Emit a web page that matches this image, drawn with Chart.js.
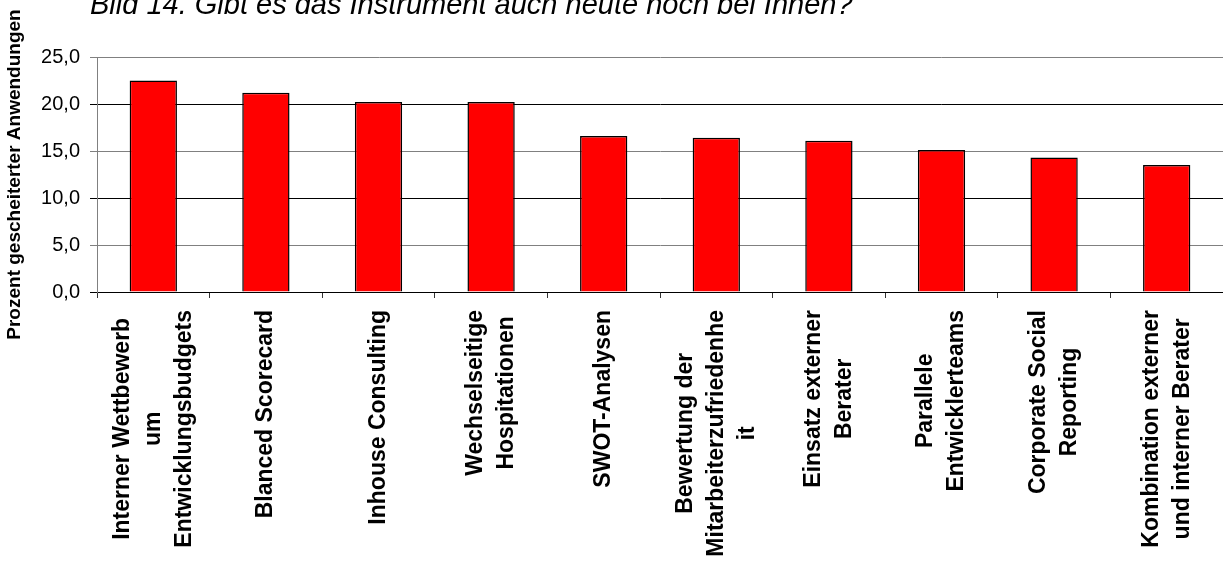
<!DOCTYPE html>
<html>
<head>
<meta charset="utf-8">
<script src="https://cdn.jsdelivr.net/npm/chart.js@4.4.1/dist/chart.umd.min.js"></script>
<style>
  html, body { margin: 0; padding: 0; background: #ffffff; }
  #wrap { width: 1223px; height: 564px; position: relative; }
</style>
</head>
<body>
<div id="wrap"><canvas id="c" width="1223" height="564"></canvas></div>
<script>
const chartTitle = 'Bild 14. Gibt es das Instrument auch heute noch bei Ihnen?';
const yAxisTitle = 'Prozent gescheiterter Anwendungen';
const categories = [
  ['Interner Wettbewerb', 'um', 'Entwicklungsbudgets'],
  ['Blanced Scorecard'],
  ['Inhouse Consulting'],
  ['Wechselseitige', 'Hospitationen'],
  ['SWOT-Analysen'],
  ['Bewertung der', 'Mitarbeiterzufriedenhe', 'it'],
  ['Einsatz externer', 'Berater'],
  ['Parallele', 'Entwicklerteams'],
  ['Corporate Social', 'Reporting'],
  ['Kombination externer', 'und interner Berater']
];
const values = [22.5, 21.2, 20.2, 20.2, 16.6, 16.4, 16.1, 15.1, 14.3, 13.5];
const yMin = 0;
const yMax = 25;
const yStep = 5;

const FONT = '"Liberation Sans", Arial, Helvetica, sans-serif';

const decorPlugin = {
  id: 'decor',
  afterDraw(chart) {
    const ctx = chart.ctx;
    const xs = chart.scales.x;
    // main title
    ctx.save();
    ctx.fillStyle = '#000';
    ctx.font = 'italic 29px ' + FONT;
    ctx.textAlign = 'left';
    ctx.textBaseline = 'alphabetic';
    ctx.fillText(chartTitle, 90, 14);
    ctx.restore();
    // category labels (rotated, lines centred on each other)
    ctx.save();
    ctx.fillStyle = '#000';
    ctx.font = 'bold 23px ' + FONT;
    ctx.textAlign = 'center';
    ctx.textBaseline = 'middle';
    const lh = 31;
    const top = xs.top + 18;
    categories.forEach((lines, i) => {
      const x = xs.getPixelForValue(i);
      let w = 0;
      lines.forEach(l => { w = Math.max(w, ctx.measureText(l).width); });
      ctx.save();
      ctx.translate(x, top);
      ctx.rotate(-Math.PI / 2);
      const n = lines.length;
      lines.forEach((l, j) => {
        ctx.fillText(l, -w / 2, (j - (n - 1) / 2) * lh);
      });
      ctx.restore();
    });
    ctx.restore();
  }
};

new Chart(document.getElementById('c'), {
  type: 'bar',
  data: {
    labels: categories.map(c => c.join(' ')),
    datasets: [{
      data: values,
      backgroundColor: '#FF0000',
      borderColor: '#000000',
      borderWidth: 1.5,
      borderSkipped: 'start',
      barPercentage: 0.42,
      categoryPercentage: 1.0
    }]
  },
  options: {
    responsive: false,
    animation: false,
    devicePixelRatio: 1,
    layout: { padding: { top: 57, right: 0, bottom: 0, left: 0 } },
    plugins: {
      legend: { display: false },
      title: { display: false },
      tooltip: { enabled: false }
    },
    scales: {
      x: {
        offset: true,
        grid: {
          display: true,
          offset: true,
          drawOnChartArea: false,
          drawTicks: true,
          tickLength: 6,
          color: '#333333'
        },
        border: { display: true, color: '#000000', width: 1 },
        ticks: { display: false },
        afterFit(scale) { scale.height = 272; }
      },
      y: {
        min: yMin,
        max: yMax,
        ticks: {
          stepSize: yStep,
          padding: 10,
          color: '#000',
          font: { family: FONT, size: 20 },
          callback: v => v.toFixed(1).replace('.', ',')
        },
        grid: {
          drawTicks: true,
          tickLength: 7,
          color: ctx => (ctx.tick && ctx.tick.value % 10 === 0) ? '#000000' : '#808080',
          lineWidth: 1
        },
        border: { display: true, color: '#808080', width: 1 },
        title: {
          display: true,
          text: yAxisTitle,
          color: '#000',
          font: { family: FONT, size: 19, weight: 'bold' },
          padding: { top: 3, bottom: 0 }
        },
        afterFit(scale) { scale.width = 97; }
      }
    }
  },
  plugins: [decorPlugin]
});
</script>
</body>
</html>
